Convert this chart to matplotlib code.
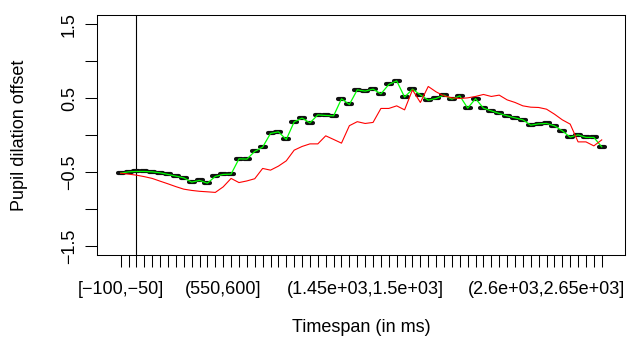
import matplotlib
matplotlib.use("Agg")
import matplotlib.pyplot as plt
from matplotlib.markers import MarkerStyle
import numpy as np

plt.rcParams['font.family'] = ['Liberation Sans', 'DejaVu Sans']

# 50 ms bins from -100 to 3000 ms
bin_starts = list(range(-100, 3000, 50))
bin_width = 50


def fmt(v):
    return ('%.3g' % v).replace('-', '\u2212')


categories = [("[" if i == 0 else "(") + fmt(s) + "," + fmt(s + bin_width) + "]"
              for i, s in enumerate(bin_starts)]
shown_label_idx = [0, 13, 31, 54]

green_series = [-0.514, -0.496, -0.491, -0.491, -0.496, -0.509, -0.531, -0.554, -0.577, -0.635,
                -0.612, -0.649, -0.558, -0.531, -0.527, -0.320, -0.324, -0.220, -0.162, 0.023,
                0.045, -0.058, 0.180, 0.230, 0.166, 0.274, 0.266, 0.261, 0.491, 0.415,
                0.612, 0.595, 0.622, 0.558, 0.685, 0.734, 0.514, 0.622, 0.545, 0.473,
                0.496, 0.541, 0.486, 0.531, 0.365, 0.493, 0.365, 0.328, 0.293, 0.261,
                0.234, 0.207, 0.135, 0.153, 0.158, 0.126, 0.058, -0.027, 0.004, -0.031,
                -0.031, -0.158]

red_series = [-0.514, -0.527, -0.541, -0.561, -0.585, -0.622, -0.658, -0.696, -0.730, -0.747,
              -0.759, -0.766, -0.774, -0.699, -0.585, -0.641, -0.619, -0.589, -0.450, -0.473,
              -0.419, -0.347, -0.203, -0.153, -0.118, -0.118, -0.009, -0.058, -0.108, 0.128,
              0.182, 0.158, 0.172, 0.361, 0.361, 0.396, 0.342, 0.612, 0.442, 0.658,
              0.585, 0.531, 0.504, 0.496, 0.504, 0.523, 0.550, 0.523, 0.541, 0.477,
              0.442, 0.396, 0.378, 0.374, 0.351, 0.284, 0.207, 0.149, -0.091, -0.091,
              -0.145, -0.064]

y_ticks = [-1.5, -1.0, -0.5, 0.0, 0.5, 1.0, 1.5]
y_tick_labels = ["\u22121.5", "", "\u22120.5", "", "0.5", "", "1.5"]
onset_bin = 3  # bin (0,50]

W, H = 629, 343
fig = plt.figure(figsize=(W / 100, H / 100), dpi=100)
L, R, T, B = 96.7, 625, 15.3, 255
ax = fig.add_axes([L / W, 1 - B / H, (R - L) / W, (B - T) / H])

x = np.arange(1, len(categories) + 1)
dash = MarkerStyle('_', capstyle='round')
ax.plot(x, green_series, ls='none', marker=dash, ms=4.2, mew=3.0, color='#111111', zorder=2)
ax.plot(x, green_series, color='#00FF00', lw=0.9, zorder=3)
ax.plot(x, red_series, color='#FF0000', lw=0.8, zorder=4)
ax.axvline(onset_bin, color='black', lw=0.8, zorder=1)

ax.set_xlim(-2.04, 64.95)
ax.set_ylim(-1.62, 1.62)

ax.set_xticks(x)
ax.set_xticklabels([categories[i] if i in shown_label_idx else "" for i in range(len(categories))],
                   fontsize=13)
ax.set_yticks(y_ticks)
ax.set_yticklabels(y_tick_labels, fontsize=13, rotation=90, va='center')

ax.tick_params(axis='both', direction='out', length=8.4, width=0.75, color='black')
ax.tick_params(axis='x', pad=10.5)
ax.tick_params(axis='y', pad=5)
for s in ax.spines.values():
    s.set_linewidth(0.75)
    s.set_color('black')

fig.text(20 / W, 1 - 135 / H, "Pupil dilation offset", rotation=90, ha='center', va='center',
         fontsize=13)
fig.text(361 / W, 1 - 328 / H, "Timespan (in ms)", ha='center', va='center', fontsize=13)

fig.savefig("out.png", dpi=100)
